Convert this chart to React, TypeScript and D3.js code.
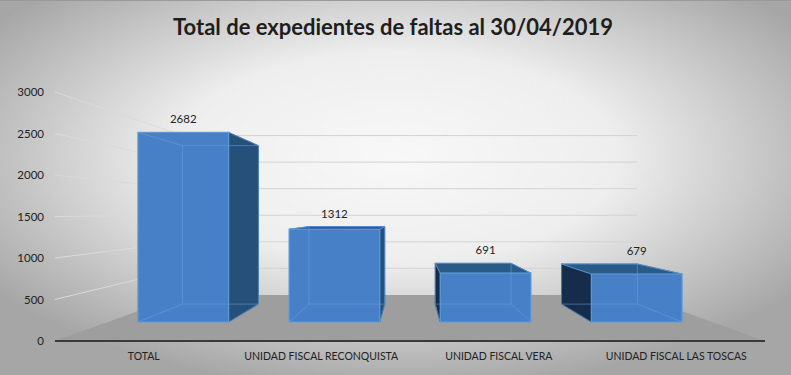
import React from 'react';
import * as d3 from 'd3';

const title = 'Total de expedientes de faltas al 30/04/2019';
const categories = ['TOTAL', 'UNIDAD FISCAL RECONQUISTA', 'UNIDAD FISCAL VERA', 'UNIDAD FISCAL LAS TOSCAS'];
const values = [2682, 1312, 691, 679];
const yTicks = [0, 500, 1000, 1500, 2000, 2500, 3000];

const W = 791, H = 375;
const font = 'Lato, "Open Sans", sans-serif';

export default function App() {
  // front plane scales
  const x = d3.scaleBand<string>().domain(categories).range([55, 765]).paddingInner(0.4).paddingOuter(0.2);
  const y = d3.scaleLinear().domain([0, 3000]).range([341, 92]);
  // depth: 0 = front edge of floor, 1 = back wall -> inverse perspective scale
  const depth = d3.scaleLinear().domain([0, 1]).range([1, 1.5625]);
  const vp = [410, 213];

  const P = (X: number, Y: number, d: number): [number, number] => {
    const w = depth(d);
    return [vp[0] + (X - vp[0]) / w, vp[1] + (Y - vp[1]) / w];
  };
  const poly = (pts: [number, number][]) => 'M' + pts.map(p => p.join(',')).join('L') + 'Z';
  const line = (a: [number, number], b: [number, number]) => 'M' + a.join(',') + 'L' + b.join(',');

  const x0 = 55, x1 = 765;
  const floor = [P(x0, y(0), 0), P(x1, y(0), 0), P(x1, y(0), 1), P(x0, y(0), 1)];
  const dF = 0.31, dB = 0.72;

  return (
    <svg width={W} height={H} style={{ position: 'absolute', left: 0, top: 0 }} fontFamily={font}>
      <defs>
        <radialGradient id="bg" cx="50%" cy="42%" r="62%">
          <stop offset="0" stopColor="#f8f8f8" />
          <stop offset="0.45" stopColor="#eeeeee" />
          <stop offset="1" stopColor="#a6a6a6" />
        </radialGradient>
      </defs>
      <rect width={W} height={H} fill="url(#bg)" />
      <line x1={0} x2={W} y1={0.5} y2={0.5} stroke="#9a9a9a" />

      <text x={393} y={35} textAnchor="middle" fontSize={22} fontWeight="bold" fill="#1e1e1e">{title}</text>

      {/* gridlines: left wall + back wall */}
      {yTicks.filter(t => t > 0).map(t => {
        const a = P(x0, y(t), 0), b = P(x0, y(t), 1), c = P(x1, y(t), 1);
        return (
          <g key={t}>
            <path d={line(a, b)} stroke="#dadada" strokeWidth={1} fill="none" />
            <path d={line(b, c)} stroke="#d3d3d3" strokeWidth={1} fill="none" />
          </g>
        );
      })}

      <path d={poly(floor)} fill="#9e9e9e" />
      <line x1={x0} x2={x1} y1={y(0)} y2={y(0)} stroke="#3a3a3a" strokeWidth={2} />

      {yTicks.map(t => (
        <text key={t} x={44} y={y(t) + 4} textAnchor="end" fontSize={11.5} fill="#222">{t}</text>
      ))}

      {categories.map((c, i) => {
        const X0 = x(c)!, X1 = X0 + x.bandwidth();
        const Yt = y(values[i]), Yb = y(0);
        const FTL = P(X0, Yt, dF), FTR = P(X1, Yt, dF), FBL = P(X0, Yb, dF), FBR = P(X1, Yb, dF);
        const BTL = P(X0, Yt, dB), BTR = P(X1, Yt, dB), BBL = P(X0, Yb, dB), BBR = P(X1, Yb, dB);
        const edges = [
          [BTL, BTR], [BTR, BBR], [BBR, BBL], [BBL, BTL],
          [FTL, BTL], [FTR, BTR], [FBL, BBL], [FBR, BBR],
        ];
        const showRight = X1 < vp[0];
        const showLeft = X0 > vp[0];
        const showTop = Yt > vp[1];
        const labelY = Math.min(FTL[1], BTL[1]) - 9;
        return (
          <g key={c}>
            {showRight && <path d={poly([FTR, BTR, BBR, FBR])} fill="#245079" stroke="#2f5f8e" strokeWidth={1} />}
            {showLeft && <path d={poly([FTL, BTL, BBL, FBL])} fill="#152c4a" stroke="#23466f" strokeWidth={1} />}
            {showTop && <path d={poly([FTL, FTR, BTR, BTL])} fill="#2a5a88" stroke="#3a70a8" strokeWidth={1} />}
            <path d={poly([FTL, FTR, FBR, FBL])} fill="#4780c6" stroke="#5c9ad8" strokeWidth={1.2} />
            {edges.map((e, k) => (
              <path key={k} d={line(e[0] as [number, number], e[1] as [number, number])} stroke="#6a9fdc" strokeOpacity={0.55} strokeWidth={1} fill="none" />
            ))}
            <text x={(FTL[0] + FTR[0]) / 2} y={labelY} textAnchor="middle" fontSize={11.5} fill="#222">{values[i]}</text>
            <text x={x(c)! + x.bandwidth() / 2} y={360} textAnchor="middle" fontSize={10.5} fill="#222">{c}</text>
          </g>
        );
      })}
    </svg>
  );
}
